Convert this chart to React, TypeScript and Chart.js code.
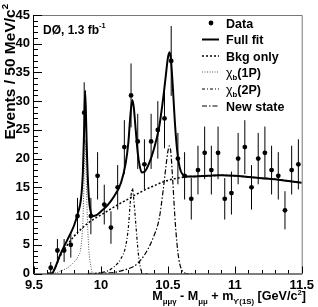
import React, { useEffect, useRef } from "react";
import { Chart, registerables } from "chart.js";

Chart.register(...registerables);

const FAMILY = '"Liberation Sans", Arial, sans-serif';

// ---- data histogram (50 MeV bins) ----
const binCenters = [
  9.625, 9.675, 9.725, 9.775, 9.825, 9.875, 9.925, 9.975, 10.025, 10.075,
  10.125, 10.175, 10.225, 10.275, 10.325, 10.375, 10.425, 10.475, 10.525, 10.575,
  10.625, 10.675, 10.725, 10.775, 10.825, 10.875, 10.925, 10.975, 11.025, 11.075,
  11.125, 11.175, 11.225, 11.275, 11.325, 11.375, 11.425, 11.475,
];
const counts = [
  1, 4, 4, 5, 10, 28, 10, 17, 12, 8,
  15, 22, 31, 23, 19, 23, 25, 27, 37, 20,
  17, 13, 18, 21, 18, 21, 13, 14, 20, 22,
  15, 20, 21, 18, 17, 11, 18, 19,
];
const countErrors = [
  1.0, 2.0, 2.0, 2.24, 3.16, 5.29, 3.16, 4.12, 3.46, 2.83,
  3.87, 4.69, 5.57, 4.8, 4.36, 4.8, 5.0, 5.2, 6.08, 4.47,
  4.12, 3.61, 4.24, 4.58, 4.24, 4.58, 3.61, 3.74, 4.47, 4.69,
  3.87, 4.47, 4.58, 4.24, 4.12, 3.32, 4.24, 4.36,
];

// ---- fit curves ----
const fitMass = [
  9.6, 9.635, 9.65, 9.7, 9.75, 9.8, 9.83, 9.85, 9.865, 9.875, 9.882, 9.89, 9.898,
  9.91, 9.925, 9.94, 9.97, 10.0, 10.05, 10.1, 10.15, 10.185, 10.205, 10.22, 10.235,
  10.245, 10.26, 10.275, 10.29, 10.305, 10.325, 10.355, 10.395, 10.435, 10.465,
  10.485, 10.5, 10.512, 10.522, 10.537, 10.552, 10.567, 10.582, 10.597, 10.617,
  10.65, 10.7, 10.8, 10.9, 11.0, 11.1, 11.2, 11.3, 11.4, 11.5,
];
const fullFit = [
  0, 0, 0.6, 3.5, 5.9, 8.4, 10.7, 12.8, 17.5, 25.5, 31.8, 26, 19,
  13.2, 10.6, 10.0, 10.2, 10.8, 11.9, 13.5, 15.8, 19.2, 22.8, 27.5, 30.2,
  29, 25, 21, 18.7, 17.6, 17.7, 18.9, 21.6, 25.5, 30.5,
  34.5, 37.5, 38.5, 37.5, 32.5, 26.5, 22, 19.2, 17.8, 17.1,
  16.9, 16.9, 17.0, 17.1, 17.0, 16.8, 16.6, 16.4, 16.1, 15.8,
];

const bkgMass = [
  9.6, 9.63, 9.65, 9.7, 9.75, 9.8, 9.85, 9.9, 9.95, 10.0, 10.05, 10.1, 10.15, 10.2,
  10.25, 10.3, 10.35, 10.4, 10.45, 10.5, 10.55, 10.6, 10.65, 10.7, 10.8, 10.9,
  11.0, 11.1, 11.2, 11.3, 11.4, 11.5,
];
const bkgOnly = [
  0, 0, 0.6, 3.2, 5.0, 6.5, 7.7, 8.7, 9.5, 10.2, 10.9, 11.6, 12.3, 12.9,
  13.6, 14.2, 14.8, 15.3, 15.8, 16.2, 16.5, 16.7, 16.85, 16.9, 17.0, 17.1,
  17.0, 16.8, 16.6, 16.4, 16.1, 15.8,
];

const chi1Mass = [
  9.6, 9.62, 9.67, 9.7, 9.75, 9.8, 9.83, 9.85, 9.865, 9.875, 9.882, 9.89, 9.898,
  9.91, 9.925, 9.935, 9.96, 10.0,
];
const chi1P = [
  0, 0, 0.15, 0.45, 1.0, 2.0, 3.0, 4.5, 9, 17, 23.2, 17, 10,
  4.1, 1.2, 0.2, 0, 0,
];

const chi2Mass = [
  9.95, 10.0, 10.05, 10.1, 10.15, 10.185, 10.205, 10.22, 10.235, 10.245, 10.26,
  10.275, 10.285, 10.3, 10.315, 10.35,
];
const chi2P = [
  0, 0.15, 0.45, 1.2, 2.6, 4.8, 8, 12.5, 14.8, 13, 8.8,
  4.5, 2.4, 0.6, 0, 0,
];

const newMass = [
  9.9, 10.0, 10.1, 10.2, 10.25, 10.3, 10.35, 10.395, 10.435, 10.465, 10.485, 10.5,
  10.512, 10.522, 10.537, 10.552, 10.567, 10.582, 10.597, 10.617, 10.64, 10.7,
];
const newState = [
  0, 0.05, 0.2, 0.8, 1.3, 2.4, 4.2, 6.5, 9.5, 14.5, 18.5, 21.2,
  22.2, 21.2, 16, 10, 5.5, 2.5, 1.0, 0.2, 0, 0,
];

const xTicks = [9.5, 10, 10.5, 11, 11.5];
const xTickLabels = ["9.5", "10", "10.5", "11", "11.5"];
const yTicks = [0, 5, 10, 15, 20, 25, 30, 35, 40, 45];
const yTickLabels = ["0", "5", "10", "15", "20", "25", "30", "35", "40", "45"];

type Part = { t: string; sub?: boolean; sup?: boolean; thin?: boolean };

function fontFor(p: Part, size: number) {
  const s = p.sub || p.sup ? size * 0.62 : size;
  return `${p.thin ? "normal" : "bold"} ${s}px ${FAMILY}`;
}

function drawRich(
  ctx: CanvasRenderingContext2D,
  parts: Part[],
  x: number,
  y: number,
  size: number,
  align: "left" | "right"
) {
  let w = 0;
  parts.forEach((p) => {
    ctx.font = fontFor(p, size);
    w += ctx.measureText(p.t).width;
  });
  let cx = align === "right" ? x - w : x;
  ctx.textAlign = "left";
  ctx.textBaseline = "alphabetic";
  parts.forEach((p) => {
    ctx.font = fontFor(p, size);
    const dy = p.sub ? size * 0.28 : p.sup ? -size * 0.42 : 0;
    ctx.fillText(p.t, cx, y + dy);
    cx += ctx.measureText(p.t).width;
  });
}

const pts = (xs: number[], ys: number[]) => xs.map((x, i) => ({ x, y: ys[i] }));

const rootPlugin = {
  id: "rootStyle",
  beforeDatasetsDraw(chart: any) {
    const ctx: CanvasRenderingContext2D = chart.ctx;
    const xs = chart.scales.x;
    const ys = chart.scales.y;
    ctx.save();
    ctx.strokeStyle = "#000";
    ctx.lineWidth = 1;
    binCenters.forEach((c, i) => {
      const px = xs.getPixelForValue(c);
      ctx.beginPath();
      ctx.moveTo(px, ys.getPixelForValue(counts[i] - countErrors[i]));
      ctx.lineTo(px, ys.getPixelForValue(counts[i] + countErrors[i]));
      ctx.stroke();
    });
    ctx.restore();
  },
  afterDraw(chart: any) {
    const ctx: CanvasRenderingContext2D = chart.ctx;
    const ca = chart.chartArea;
    const xs = chart.scales.x;
    const ys = chart.scales.y;
    ctx.save();
    // frame
    ctx.lineWidth = 1;
    ctx.strokeStyle = "#777";
    ctx.beginPath();
    ctx.moveTo(ca.left, ca.top + 0.5);
    ctx.lineTo(ca.right + 0.5, ca.top + 0.5);
    ctx.lineTo(ca.right + 0.5, ca.bottom);
    ctx.stroke();
    ctx.strokeStyle = "#000";
    ctx.beginPath();
    ctx.moveTo(ca.left - 0.5, ca.top);
    ctx.lineTo(ca.left - 0.5, ca.bottom + 0.5);
    ctx.lineTo(ca.right + 0.5, ca.bottom + 0.5);
    ctx.stroke();
    // y ticks (inside)
    for (let i = 0; i <= 45; i++) {
      const py = Math.round(ys.getPixelForValue(i)) + 0.5;
      const len = i % 5 === 0 ? 8 : 4;
      ctx.beginPath();
      ctx.moveTo(ca.left, py);
      ctx.lineTo(ca.left + len, py);
      ctx.stroke();
    }
    // x ticks (inside)
    for (let i = 0; i <= 20; i++) {
      const px = Math.round(xs.getPixelForValue(9.5 + i * 0.1)) + 0.5;
      const len = i % 5 === 0 ? 7 : 3.5;
      ctx.beginPath();
      ctx.moveTo(px, ca.bottom);
      ctx.lineTo(px, ca.bottom - len);
      ctx.stroke();
    }
    ctx.fillStyle = "#000";
    // experiment label
    drawRich(
      ctx,
      [{ t: "DØ, 1.3 fb" }, { t: "-1", sup: true }],
      43,
      33.5,
      12,
      "left"
    );
    // y title
    ctx.save();
    ctx.translate(15, 4);
    ctx.rotate(-Math.PI / 2);
    drawRich(ctx, [{ t: "Events / 50 MeV/c" }, { t: "2", sup: true }], 0, 0, 15.5, "right");
    ctx.restore();
    // x title
    drawRich(
      ctx,
      [
        { t: "M" },
        { t: "μμγ", sub: true },
        { t: " - M" },
        { t: "μμ", sub: true },
        { t: " + m" },
        { t: "ϒ(1S)", sub: true },
        { t: " [GeV/c" },
        { t: "2", sup: true },
        { t: "]" },
      ],
      306,
      300,
      12.6,
      "right"
    );
    // legend
    const entries: { label: Part[]; ds: number; y: number }[] = [
      { label: [{ t: "Data" }], ds: 5, y: 23 },
      { label: [{ t: "Full fit" }], ds: 0, y: 39.5 },
      { label: [{ t: "Bkg only" }], ds: 1, y: 56 },
      { label: [{ t: "χ", thin: true }, { t: "b", sub: true }, { t: "(1P)" }], ds: 2, y: 72 },
      { label: [{ t: "χ", thin: true }, { t: "b", sub: true }, { t: "(2P)" }], ds: 3, y: 89 },
      { label: [{ t: "New state" }], ds: 4, y: 106 },
    ];
    entries.forEach((e) => {
      const ds = chart.data.datasets[e.ds];
      if (e.ds === 5) {
        ctx.beginPath();
        ctx.fillStyle = "#000";
        ctx.arc(211, e.y, 2.4, 0, Math.PI * 2);
        ctx.fill();
      } else {
        ctx.save();
        ctx.strokeStyle = ds.borderColor;
        ctx.lineWidth = ds.borderWidth;
        ctx.setLineDash(ds.borderDash || []);
        ctx.beginPath();
        ctx.moveTo(202, e.y);
        ctx.lineTo(219, e.y);
        ctx.stroke();
        ctx.restore();
      }
      ctx.fillStyle = "#000";
      drawRich(ctx, e.label, 226, e.y + 4.5, 12.5, "left");
    });
    ctx.restore();
  },
};

export default function App() {
  const ref = useRef<HTMLCanvasElement | null>(null);
  useEffect(() => {
    document.body.style.margin = "0";
    const canvas = ref.current!;
    const tickFont = { family: FAMILY, size: 13, weight: "bold" as const };
    const line = (label: string, xs: number[], ys: number[], color: string, width: number, dash: number[]) => ({
      label,
      data: pts(xs, ys),
      borderColor: color,
      borderWidth: width,
      borderDash: dash,
      pointRadius: 0,
      fill: false,
      showLine: true,
      cubicInterpolationMode: "monotone" as const,
    });
    const chart = new Chart(canvas, {
      type: "line",
      data: {
        datasets: [
          line("Full fit", fitMass, fullFit, "#000", 2, []),
          line("Bkg only", bkgMass, bkgOnly, "#000", 1.5, [2, 2]),
          line("χb(1P)", chi1Mass, chi1P, "#555", 1, [1, 1.5]),
          line("χb(2P)", chi2Mass, chi2P, "#000", 1.2, [3, 2, 1, 2]),
          line("New state", newMass, newState, "#000", 1.2, [5, 2, 1.5, 2]),
          {
            label: "Data",
            data: pts(binCenters, counts),
            showLine: false,
            pointRadius: 2.4,
            pointBackgroundColor: "#000",
            pointBorderWidth: 0,
            borderColor: "#000",
          } as any,
        ],
      },
      options: {
        animation: false,
        responsive: false,
        devicePixelRatio: 1,
        layout: { padding: { top: 15, right: 16, left: 0, bottom: 0 } },
        plugins: { legend: { display: false }, tooltip: { enabled: false } },
        scales: {
          x: {
            type: "linear",
            min: 9.5,
            max: 11.5,
            afterFit: (s: any) => {
              s.height = 33.5;
            },
            afterBuildTicks: (s: any) => {
              s.ticks = xTicks.map((v) => ({ value: v }));
            },
            grid: { display: false, drawTicks: false },
            border: { display: false },
            ticks: {
              autoSkip: false,
              maxRotation: 0,
              padding: 4,
              font: tickFont,
              color: "#000",
              callback: (v: number) => xTickLabels[xTicks.indexOf(v)] ?? String(v),
            },
          },
          y: {
            type: "linear",
            min: 0,
            max: 45,
            afterFit: (s: any) => {
              s.width = 34;
            },
            afterBuildTicks: (s: any) => {
              s.ticks = yTicks.map((v) => ({ value: v }));
            },
            grid: { display: false, drawTicks: false },
            border: { display: false },
            ticks: {
              autoSkip: false,
              padding: 4,
              font: tickFont,
              color: "#000",
              callback: (v: number) => yTickLabels[yTicks.indexOf(v)] ?? String(v),
            },
          },
        },
      } as any,
      plugins: [rootPlugin],
    });
    return () => chart.destroy();
  }, []);
  return (
    <canvas
      ref={ref}
      width={318}
      height={307}
      style={{ display: "block", width: 318, height: 307 }}
    />
  );
}
